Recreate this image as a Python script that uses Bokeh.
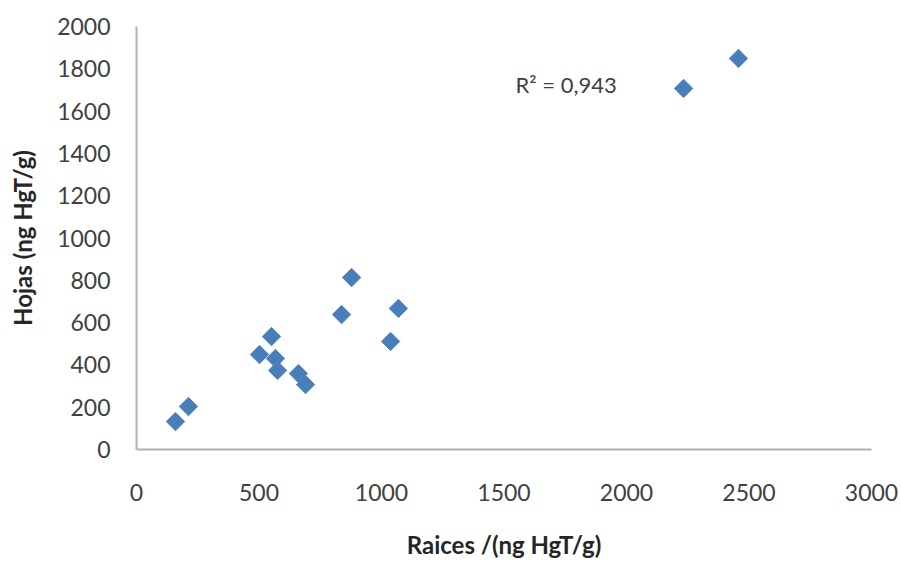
from bokeh.plotting import figure
from bokeh.models import Range1d, FixedTicker, ColumnDataSource
from bokeh.embed import file_html
from bokeh.resources import INLINE
import math

raices = [159, 212, 502, 551, 567, 576, 661, 690, 837, 878, 1037, 1069, 2233, 2457]
hojas = [132, 203, 449, 534, 430, 374, 359, 307, 638, 813, 511, 667, 1707, 1849]
x_ticks = [0, 500, 1000, 1500, 2000, 2500, 3000]
y_ticks = [0, 200, 400, 600, 800, 1000, 1200, 1400, 1600, 1800, 2000]
r2_text = ["R\u00b2 = 0,943"]
r2_x = [1547]
r2_y = [1726]

FONT = "Lato"
TICK_COLOR = "#404040"

p = figure(width=901, height=561, output_backend="svg", toolbar_location=None,
           x_range=Range1d(0, 3000), y_range=Range1d(0, 2000),
           min_border_left=136, min_border_right=30, min_border_top=26, min_border_bottom=112)
p.outline_line_color = None
p.xgrid.grid_line_color = None
p.ygrid.grid_line_color = None
p.background_fill_color = "white"
p.border_fill_color = "white"

src = ColumnDataSource(dict(x=raices, y=hojas))
p.scatter("x", "y", source=src, marker="square", size=13, angle=math.pi / 4,
          fill_color="#4A7EBB", line_color="#4F81BD", line_width=1)

for ax in (p.xaxis[0], p.yaxis[0]):
    ax.axis_line_color = "#B0B0B0"
    ax.axis_line_width = 2
    ax.major_tick_line_color = None
    ax.minor_tick_line_color = None
    ax.major_label_text_font = FONT
    ax.major_label_text_font_size = "23px"
    ax.major_label_text_color = TICK_COLOR
    ax.axis_label_text_font = FONT
    ax.axis_label_text_font_size = "24px"
    ax.axis_label_text_font_style = "bold"
    ax.axis_label_text_color = "#262626"

p.xaxis[0].ticker = FixedTicker(ticks=x_ticks)
p.yaxis[0].ticker = FixedTicker(ticks=y_ticks)
p.xaxis[0].axis_label = "Raices /(ng HgT/g)"
p.yaxis[0].axis_label = "Hojas (ng HgT/g)"
p.xaxis[0].major_label_standoff = 28
p.yaxis[0].major_label_standoff = 20
p.xaxis[0].axis_label_standoff = 26
p.yaxis[0].axis_label_standoff = 17

tsrc = ColumnDataSource(dict(x=r2_x, y=r2_y, t=r2_text))
p.text("x", "y", text="t", source=tsrc, text_font={"value": FONT}, text_font_size="22px",
       text_color=TICK_COLOR, text_baseline="middle", text_align="left")

open("out.html", "w").write(file_html(p, INLINE))
